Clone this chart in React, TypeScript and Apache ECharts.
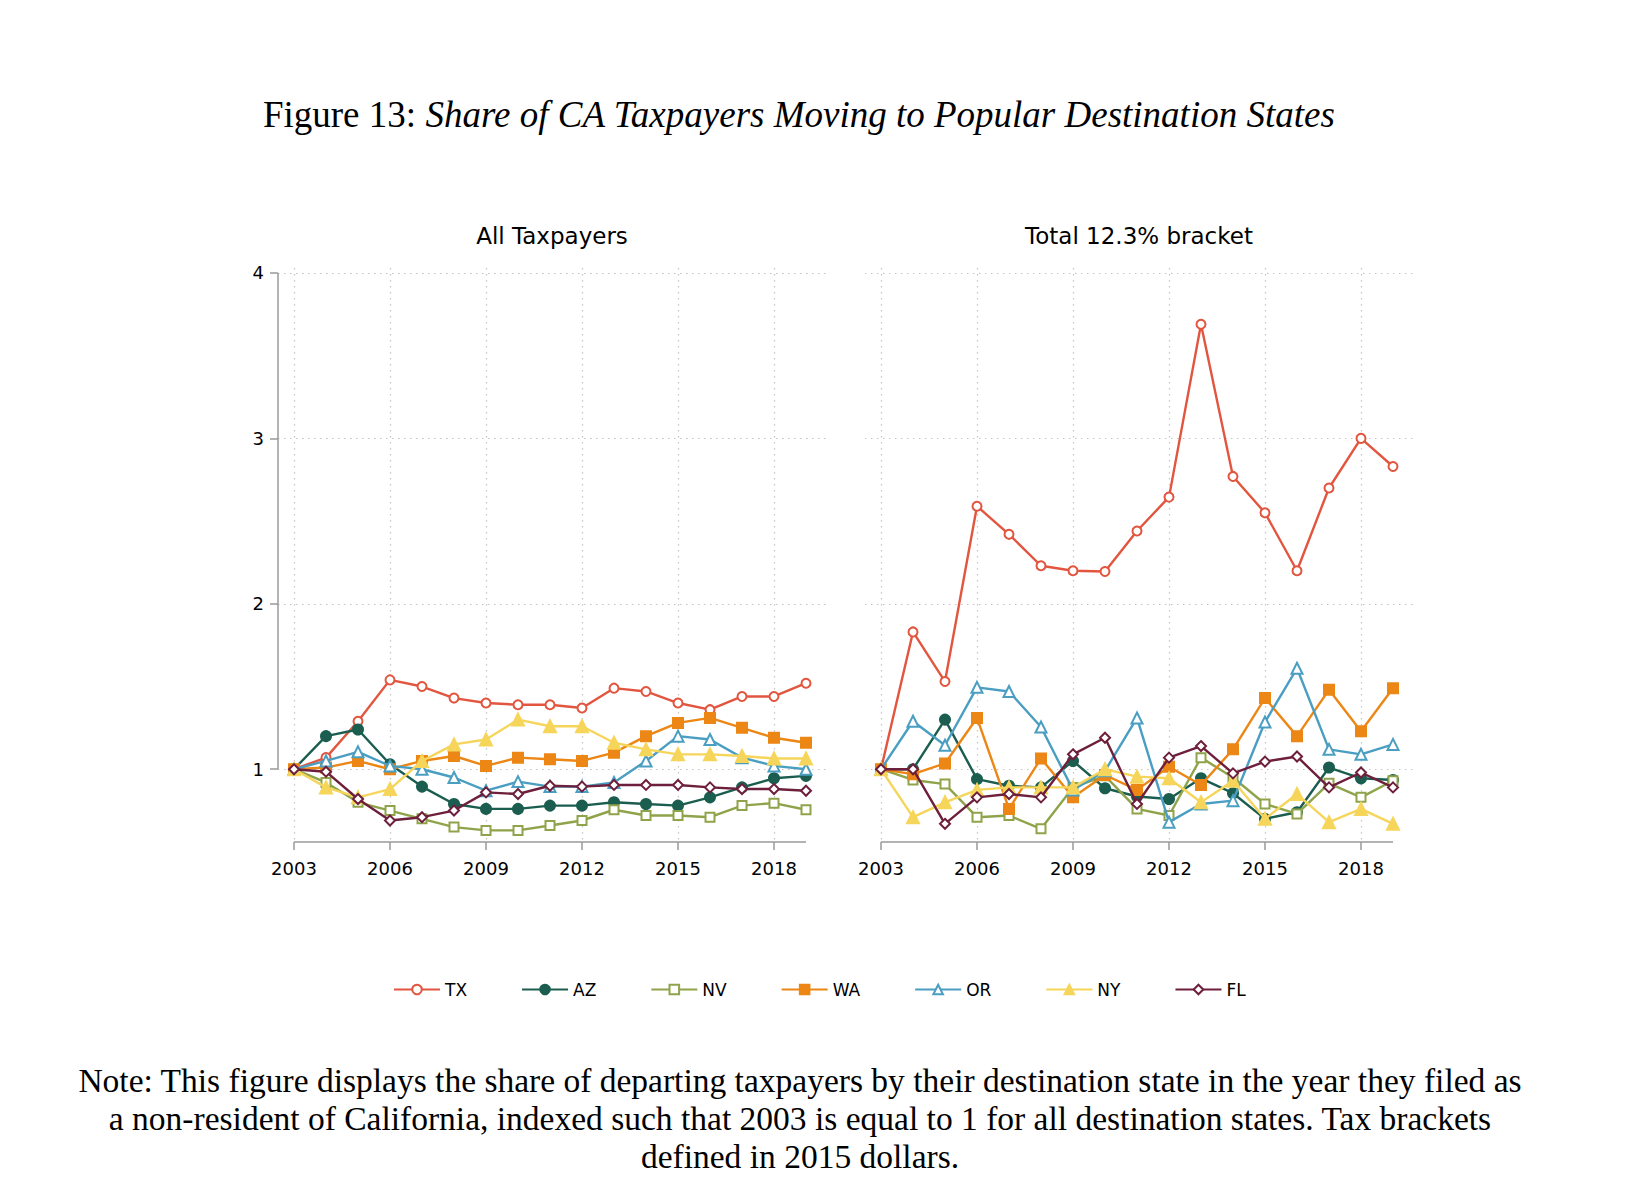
import React, { useEffect, useRef } from "react";
import * as echarts from "echarts";

const years = [2003, 2004, 2005, 2006, 2007, 2008, 2009, 2010, 2011, 2012, 2013, 2014, 2015, 2016, 2017, 2018, 2019];
const xTickYears = [2003, 2006, 2009, 2012, 2015, 2018];
const yTicks = [1, 2, 3, 4];
const states = ["TX", "AZ", "NV", "WA", "OR", "NY", "FL"];
const stateColors = ["#E2553F", "#1B5E50", "#8FA44A", "#EC8614", "#4A9EC2", "#F6D55B", "#6D1F3C"];
const stateSymbols = ["emptyCircle", "circle", "emptyRect", "rect", "emptyTriangle", "triangle", "emptyDiamond"];
const stateSymbolSizes = [9, 10, 9, 10, 11, 12, 10];

// All Taxpayers panel
const allTX = [1, 1.07, 1.29, 1.54, 1.5, 1.43, 1.4, 1.39, 1.39, 1.37, 1.49, 1.47, 1.4, 1.36, 1.44, 1.44, 1.52];
const allAZ = [1, 1.2, 1.24, 1.03, 0.895, 0.79, 0.76, 0.76, 0.78, 0.78, 0.8, 0.79, 0.78, 0.83, 0.89, 0.945, 0.96];
const allNV = [1, 0.92, 0.8, 0.75, 0.7, 0.65, 0.63, 0.63, 0.66, 0.69, 0.755, 0.72, 0.72, 0.71, 0.78, 0.795, 0.755];
const allWA = [1, 1.01, 1.05, 1.0, 1.05, 1.08, 1.02, 1.07, 1.06, 1.05, 1.1, 1.2, 1.28, 1.31, 1.25, 1.19, 1.16];
const allOR = [1, 1.05, 1.105, 1.02, 1.0, 0.95, 0.87, 0.925, 0.895, 0.895, 0.92, 1.05, 1.2, 1.18, 1.07, 1.02, 1.0];
const allNY = [1, 0.89, 0.83, 0.88, 1.05, 1.15, 1.18, 1.3, 1.26, 1.26, 1.16, 1.12, 1.09, 1.09, 1.08, 1.065, 1.065];
const allFL = [1, 0.985, 0.82, 0.69, 0.71, 0.75, 0.86, 0.85, 0.9, 0.895, 0.905, 0.905, 0.905, 0.89, 0.88, 0.88, 0.87];

// Total 12.3% bracket panel
const topTX = [1, 1.83, 1.53, 2.59, 2.42, 2.23, 2.2, 2.195, 2.44, 2.645, 3.69, 2.77, 2.55, 2.2, 2.7, 3.0, 2.83];
const topAZ = [1, 1.0, 1.3, 0.94, 0.9, 0.89, 1.05, 0.885, 0.835, 0.82, 0.945, 0.855, 0.7, 0.74, 1.01, 0.945, 0.935];
const topNV = [1, 0.935, 0.91, 0.71, 0.72, 0.64, 0.89, 0.96, 0.76, 0.72, 1.07, 0.95, 0.79, 0.73, 0.915, 0.83, 0.93];
const topWA = [1, 0.97, 1.035, 1.31, 0.76, 1.065, 0.83, 0.965, 0.875, 1.015, 0.905, 1.12, 1.43, 1.2, 1.48, 1.23, 1.49];
const topOR = [1, 1.29, 1.145, 1.495, 1.47, 1.255, 0.875, 0.99, 1.31, 0.68, 0.79, 0.81, 1.285, 1.61, 1.12, 1.09, 1.15];
const topNY = [1, 0.71, 0.8, 0.875, 0.89, 0.89, 0.89, 1.0, 0.955, 0.945, 0.8, 0.93, 0.7, 0.85, 0.68, 0.76, 0.67];
const topFL = [1, 1.0, 0.67, 0.83, 0.85, 0.83, 1.09, 1.19, 0.79, 1.07, 1.14, 0.975, 1.046, 1.077, 0.89, 0.98, 0.89];

const allSeries = [allTX, allAZ, allNV, allWA, allOR, allNY, allFL];
const topSeries = [topTX, topAZ, topNV, topWA, topOR, topNY, topFL];

const panelTitles = ["All Taxpayers", "Total 12.3% bracket"];
const figureLabel = "Figure 13: ";
const figureTitle = "Share of CA Taxpayers Moving to Popular Destination States";
const noteText =
  "Note: This figure displays the share of departing taxpayers by their destination state in the year they filed as\n" +
  "a non-resident of California, indexed such that 2003 is equal to 1 for all destination states. Tax brackets\n" +
  "defined in 2015 dollars.";

const X_MIN = 2002.5;
const X_MAX = 2019.625;
const Y_MIN = 0.56;
const Y_MAX = 4.03;

const SANS = "'DejaVu Sans', Verdana, sans-serif";
const SERIF = "'Liberation Serif', 'Times New Roman', serif";
const AXIS_GREY = "#9a9a9a";
const GRID_GREY = "#c4c4c4";

export default function App() {
  const ref = useRef<HTMLDivElement>(null);

  useEffect(() => {
    document.body.style.margin = "0";
    if (!ref.current) return;
    const chart = echarts.init(ref.current, null, { renderer: "svg" });

    const splitLine = { show: true, lineStyle: { color: GRID_GREY, type: [1.5, 4.5], width: 1.2 } };

    const xAxes = [0, 1].map((g) => ({
      type: "value",
      gridIndex: g,
      min: X_MIN,
      max: X_MAX,
      axisLine: { show: false },
      axisTick: { show: true, customValues: xTickYears, length: 8, lineStyle: { color: AXIS_GREY, width: 1.5 } },
      axisLabel: {
        show: true,
        customValues: xTickYears,
        formatter: (v: number) => String(Math.round(v)),
        margin: 17,
        fontSize: 18,
        color: "#000",
        fontFamily: SANS,
      },
      splitLine,
    }));

    const yAxes = [0, 1].map((g) => ({
      type: "value",
      gridIndex: g,
      min: Y_MIN,
      max: Y_MAX,
      axisLine: { show: false },
      axisTick: { show: g === 0, customValues: yTicks, length: 8, lineStyle: { color: AXIS_GREY, width: 1.5 } },
      axisLabel: {
        show: g === 0,
        customValues: yTicks,
        formatter: (v: number) => String(Math.round(v)),
        margin: 14,
        fontSize: 18,
        color: "#000",
        fontFamily: SANS,
      },
      splitLine,
    }));

    const dataSeries: any[] = [];
    [allSeries, topSeries].forEach((panel, g) => {
      panel.forEach((vals, i) => {
        dataSeries.push({
          type: "line",
          name: states[i],
          xAxisIndex: g,
          yAxisIndex: g,
          data: years.map((yr, k) => [yr, vals[k]]),
          symbol: stateSymbols[i],
          symbolSize: stateSymbolSizes[i],
          showAllSymbol: true,
          color: stateColors[i],
          lineStyle: { color: stateColors[i], width: 2.4 },
          itemStyle: { color: stateColors[i], borderColor: stateColors[i], borderWidth: 2 },
          z: 3 + i,
          silent: true,
        });
      });
    });

    const axisLineStyle = { color: AXIS_GREY, width: 1.5 };
    const helperSeries: any[] = [
      {
        type: "line",
        xAxisIndex: 0,
        yAxisIndex: 0,
        data: [[years[0], Y_MIN], [years[years.length - 1], Y_MIN]],
        symbol: "none",
        lineStyle: axisLineStyle,
        clip: false,
        silent: true,
        z: 2,
      },
      {
        type: "line",
        xAxisIndex: 1,
        yAxisIndex: 1,
        data: [[years[0], Y_MIN], [years[years.length - 1], Y_MIN]],
        symbol: "none",
        lineStyle: axisLineStyle,
        clip: false,
        silent: true,
        z: 2,
      },
      {
        type: "line",
        xAxisIndex: 0,
        yAxisIndex: 0,
        data: [[X_MIN, yTicks[0]], [X_MIN, yTicks[yTicks.length - 1]]],
        symbol: "none",
        lineStyle: axisLineStyle,
        clip: false,
        silent: true,
        z: 2,
      },
    ];

    const centered = {
      fill: "#000",
      align: "center",
      textAlign: "center",
      verticalAlign: "middle",
      textVerticalAlign: "middle",
    };

    chart.setOption({
      animation: false,
      backgroundColor: "#fff",
      grid: [
        { left: 278, top: 268, width: 548, height: 574 },
        { left: 865, top: 268, width: 548, height: 574 },
      ],
      xAxis: xAxes,
      yAxis: yAxes,
      legend: {
        data: states,
        left: 388,
        top: 976,
        itemWidth: 46,
        itemHeight: 12,
        itemGap: 54,
        textStyle: { fontSize: 17, color: "#000", fontFamily: SANS },
        selectedMode: false,
      },
      series: [...dataSeries, ...helperSeries],
      graphic: [
        {
          type: "text",
          x: 799,
          y: 114,
          style: {
            ...centered,
            text: "{n|" + figureLabel + "}{i|" + figureTitle + "}",
            rich: {
              n: { fontFamily: SERIF, fontSize: 37, fontStyle: "normal", fill: "#000" },
              i: { fontFamily: SERIF, fontSize: 37, fontStyle: "italic", fill: "#000" },
            },
          },
        },
        {
          type: "text",
          x: 552,
          y: 236,
          style: { ...centered, text: panelTitles[0], fontFamily: SANS, fontSize: 23 },
        },
        {
          type: "text",
          x: 1139,
          y: 236,
          style: { ...centered, text: panelTitles[1], fontFamily: SANS, fontSize: 23 },
        },
        {
          type: "text",
          x: 800,
          y: 1118,
          style: { ...centered, text: noteText, fontFamily: SERIF, fontSize: 33.5, lineHeight: 38 },
        },
      ],
    });

    return () => {
      chart.dispose();
    };
  }, []);

  return <div ref={ref} style={{ width: 1640, height: 1190 }} />;
}
